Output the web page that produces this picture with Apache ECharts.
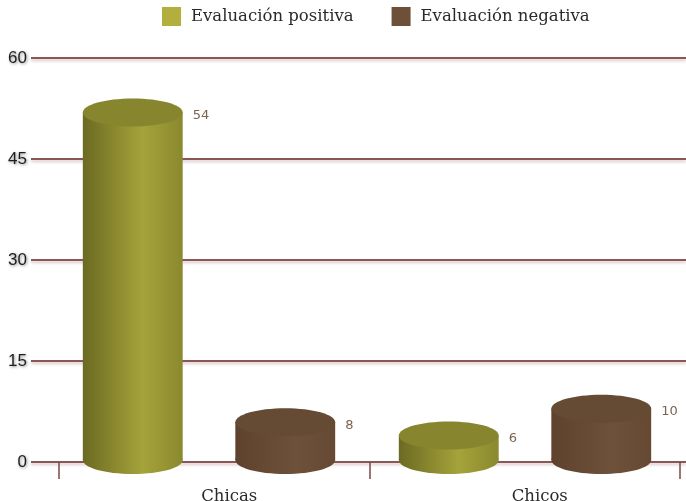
<!DOCTYPE html>
<html>
<head>
<meta charset="utf-8">
<script src="https://cdn.jsdelivr.net/npm/echarts@6/dist/echarts.min.js"></script>
<style>
  html, body { margin: 0; padding: 0; background: #ffffff; }
  #chart { width: 686px; height: 501px; }
</style>
</head>
<body>
<div id="chart"></div>
<script>
// Evaluations by group
const categories = ['Chicas', 'Chicos'];
const seriesNames = ['Evaluación positiva', 'Evaluación negativa'];
const positivos = [54, 6];
const negativos = [8, 10];
const yMin = 0;
const yMax = 60;
const yInterval = 15;

// Cylinder palettes: legend swatch, body gradient, top cap
const palettes = [
  { swatch: '#b3af3d', body: ['#6b6a22', '#a5a33a', '#8a892e'], cap: '#87862f' },
  { swatch: '#6e4f38', body: ['#5e422d', '#6e513a', '#654932'], cap: '#654a34' }
];

function bodyGradient(p) {
  return new echarts.graphic.LinearGradient(0, 0, 1, 0, [
    { offset: 0, color: p.body[0] },
    { offset: 0.6, color: p.body[1] },
    { offset: 1, color: p.body[2] }
  ]);
}

function cylinder(side, palette) {
  return function (params, api) {
    const cat = api.value(0);
    const val = api.value(1);
    const top = api.coord([cat, val]);
    const base = api.coord([cat, 0]);
    const band = api.size([1, 0])[0];
    const cx = top[0] + side * band * 0.2413;
    const rx = band * 0.158;
    const ry = 14;
    const topCy = top[1] + ry;
    const baseCy = base[1] - 2;
    const grad = bodyGradient(palette);
    return {
      type: 'group',
      children: [
        { type: 'ellipse', shape: { cx: cx, cy: baseCy, rx: rx, ry: ry }, style: { fill: grad } },
        { type: 'rect', shape: { x: cx - rx, y: topCy, width: rx * 2, height: baseCy - topCy }, style: { fill: grad } },
        { type: 'ellipse', shape: { cx: cx, cy: topCy, rx: rx, ry: ry }, style: { fill: palette.cap } },
        {
          type: 'text',
          style: {
            text: String(val),
            x: cx + rx + 10,
            y: topCy + 3,
            verticalAlign: 'middle',
            fill: '#7a6450',
            font: '13px "DejaVu Sans", sans-serif'
          }
        }
      ]
    };
  };
}

const chart = echarts.init(document.getElementById('chart'), null, { renderer: 'canvas' });

const gridBox = { top: 58, bottom: 39, outerBoundsMode: 'none', containLabel: false };

chart.setOption({
  animation: false,
  backgroundColor: '#ffffff',
  legend: {
    left: 157,
    top: 2,
    itemWidth: 19,
    itemHeight: 19,
    itemGap: 38,
    icon: 'rect',
    data: seriesNames,
    textStyle: {
      fontFamily: '"DejaVu Serif", serif',
      fontSize: 16.5,
      color: '#2a2a2a',
      padding: [0, 0, 0, 5]
    }
  },
  grid: [
    // value grid with the horizontal rules
    Object.assign({ left: 31, right: 0 }, gridBox),
    // category ticks and names
    Object.assign({ left: 59, right: 6 }, gridBox),
    // cylinders
    Object.assign({ left: 51, right: 3 }, gridBox)
  ],
  xAxis: [
    { gridIndex: 0, type: 'value', show: false },
    {
      gridIndex: 1,
      type: 'category',
      data: categories,
      axisLine: { show: false },
      axisTick: { show: true, length: 17, lineStyle: { color: '#7a4848', width: 1.5 } },
      axisLabel: {
        margin: 26,
        padding: [0, 0, 0, 30],
        fontFamily: '"DejaVu Serif", serif',
        fontSize: 16.5,
        color: '#2a2a2a'
      }
    },
    { gridIndex: 2, type: 'category', data: categories, show: false }
  ],
  yAxis: [
    {
      gridIndex: 0,
      type: 'value',
      min: yMin,
      max: yMax,
      interval: yInterval,
      axisLine: { show: false },
      axisTick: { show: false },
      axisLabel: {
        margin: 4,
        fontFamily: '"Liberation Sans", Arial, sans-serif',
        fontSize: 17,
        color: '#1e1e1e',
        textShadowColor: 'rgba(0,0,0,0.45)',
        textShadowBlur: 3,
        textShadowOffsetX: 1,
        textShadowOffsetY: 1
      },
      splitLine: {
        show: true,
        lineStyle: {
          color: '#8a5656',
          width: 2,
          shadowColor: 'rgba(140,80,80,0.35)',
          shadowBlur: 3,
          shadowOffsetY: 2
        }
      }
    },
    { gridIndex: 1, type: 'value', min: yMin, max: yMax, interval: yInterval, show: false },
    { gridIndex: 2, type: 'value', min: yMin, max: yMax, interval: yInterval, show: false }
  ],
  series: [
    {
      name: seriesNames[0],
      type: 'custom',
      xAxisIndex: 2,
      yAxisIndex: 2,
      itemStyle: { color: palettes[0].swatch },
      renderItem: cylinder(-1, palettes[0]),
      encode: { x: 0, y: 1 },
      data: positivos.map((v, i) => [i, v])
    },
    {
      name: seriesNames[1],
      type: 'custom',
      xAxisIndex: 2,
      yAxisIndex: 2,
      itemStyle: { color: palettes[1].swatch },
      renderItem: cylinder(1, palettes[1]),
      encode: { x: 0, y: 1 },
      data: negativos.map((v, i) => [i, v])
    }
  ]
});
</script>
</body>
</html>
